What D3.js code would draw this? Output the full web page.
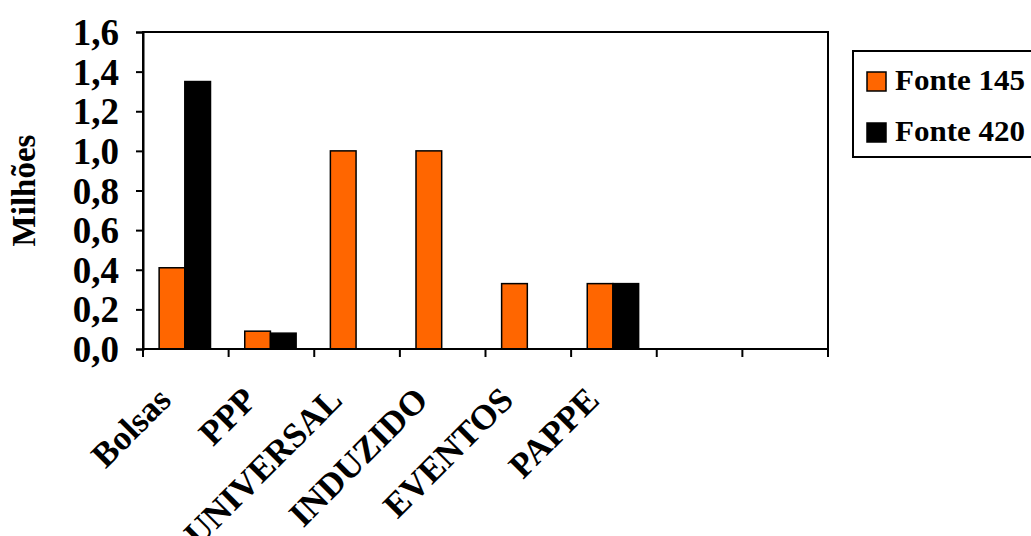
<!DOCTYPE html>
<html>
<head>
<meta charset="utf-8">
<script src="https://cdn.jsdelivr.net/npm/d3@7"></script>
<style>
  html, body { margin: 0; padding: 0; background: #fff; }
  svg { display: block; }
  text { font-family: "Liberation Serif", "Times New Roman", serif; font-weight: bold; fill: #000; }
</style>
</head>
<body>
<svg id="chart" width="1031" height="536"></svg>
<script>
// Program categories (two trailing slots are empty on the axis)
const categories = ["Bolsas", "PPP", "UNIVERSAL", "INDUZIDO", "EVENTOS", "PAPPE", "", ""];
// Values in millions
const fonte145 = [0.41, 0.09, 1.0, 1.0, 0.33, 0.33, null, null];
const fonte420 = [1.35, 0.08, null, null, null, 0.33, null, null];
const seriesNames = ["Fonte 145", "Fonte 420"];
const seriesColors = ["#FF6600", "#000000"];
const yTicks = [0, 0.2, 0.4, 0.6, 0.8, 1.0, 1.2, 1.4, 1.6];
const yTitle = "Milhões";

const svg = d3.select("#chart");
const plot = { left: 143, right: 828, top: 32, bottom: 349 };

const x = d3.scaleBand()
  .domain(d3.range(categories.length))
  .range([plot.left, plot.right])
  .paddingInner(0).paddingOuter(0);

const y = d3.scaleLinear().domain([0, 1.6]).range([plot.bottom, plot.top]);

const fmt = v => d3.format(".1f")(v).replace(".", ",");

// Plot frame
svg.append("rect")
  .attr("x", plot.left).attr("y", plot.top)
  .attr("width", plot.right - plot.left).attr("height", plot.bottom - plot.top)
  .attr("fill", "#fff").attr("stroke", "#000").attr("stroke-width", 2);

// Bars
const bw = x.bandwidth() * 0.3;
const off = (x.bandwidth() - 2 * bw) / 2 - 1;
const series = [fonte145, fonte420];
series.forEach((vals, s) => {
  svg.append("g").selectAll("rect")
    .data(vals.map((v, i) => ({ v, i })).filter(d => d.v != null))
    .join("rect")
    .attr("x", d => x(d.i) + off + s * bw)
    .attr("y", d => y(d.v))
    .attr("width", bw)
    .attr("height", d => y(0) - y(d.v))
    .attr("fill", seriesColors[s])
    .attr("stroke", "#000")
    .attr("stroke-width", 1.5);
});

// Y axis
const yAxis = svg.append("g")
  .attr("transform", `translate(${plot.left},0)`)
  .call(d3.axisLeft(y).tickValues(yTicks).tickFormat(fmt).tickSize(7).tickPadding(17));
yAxis.select(".domain").attr("stroke", "#000").attr("stroke-width", 2);
yAxis.selectAll(".tick line").attr("stroke", "#000").attr("stroke-width", 2);
yAxis.selectAll(".tick text")
  .style("font-family", "Liberation Serif, serif").style("font-weight", "bold")
  .style("font-size", "37px").attr("fill", "#000").attr("dy", "0.34em");

// X axis: ticks on category boundaries
const xEdges = d3.range(categories.length + 1).map(i => plot.left + i * x.bandwidth());
const xg = svg.append("g");
xg.append("line")
  .attr("x1", plot.left).attr("x2", plot.right)
  .attr("y1", plot.bottom).attr("y2", plot.bottom)
  .attr("stroke", "#000").attr("stroke-width", 2);
xg.selectAll("line.tk").data(xEdges).join("line").attr("class", "tk")
  .attr("x1", d => d).attr("x2", d => d)
  .attr("y1", plot.bottom).attr("y2", plot.bottom + 8)
  .attr("stroke", "#000").attr("stroke-width", 2);

// Rotated category labels
xg.selectAll("text.cat").data(categories.map((c, i) => ({ c, i })).filter(d => d.c))
  .join("text").attr("class", "cat")
  .attr("text-anchor", "end")
  .style("font-size", "35px")
  .attr("transform", d => `translate(${x(d.i) + x.bandwidth() / 2 - 13},${plot.bottom + 53}) rotate(-45)`)
  .text(d => d.c);

// Y title
svg.append("text")
  .attr("text-anchor", "middle")
  .style("font-size", "33px")
  .attr("transform", `translate(35,${(plot.top + plot.bottom) / 2}) rotate(-90)`)
  .text(yTitle);

// Legend
const lg = svg.append("g");
lg.append("rect")
  .attr("x", 853).attr("y", 51).attr("width", 200).attr("height", 106)
  .attr("fill", "#fff").attr("stroke", "#000").attr("stroke-width", 2);
seriesNames.forEach((name, s) => {
  const cy = 82 + s * 51;
  lg.append("rect")
    .attr("x", 867).attr("y", cy - 10).attr("width", 19).attr("height", 19)
    .attr("fill", seriesColors[s]).attr("stroke", "#000").attr("stroke-width", 1.5);
  lg.append("text")
    .attr("x", 895).attr("y", cy + 8)
    .style("font-size", "29px")
    .attr("textLength", 130).attr("lengthAdjust", "spacingAndGlyphs")
    .text(name);
});
</script>
</body>
</html>
